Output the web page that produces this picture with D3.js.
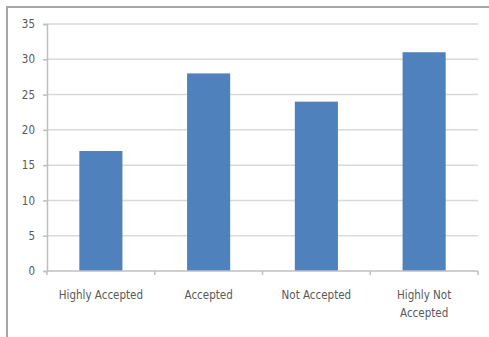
<!DOCTYPE html>
<html><head><meta charset="utf-8">
<script src="https://cdn.jsdelivr.net/npm/d3@7"></script>
<style>body{margin:0;background:#fff}</style>
</head><body>
<svg id="c" width="489" height="337"></svg>
<script>
const categories = ["Highly Accepted", "Accepted", "Not Accepted", "Highly Not Accepted"];
const values = [17, 28, 24, 31];
const yTicks = [0, 5, 10, 15, 20, 25, 30, 35];
const labelLines = [["Highly Accepted"], ["Accepted"], ["Not Accepted"], ["Highly Not", "Accepted"]];

(function() {
const svg = d3.select("#c");
const font = "'Liberation Sans Narrow','Arial Narrow','DejaVu Sans Condensed',sans-serif";
// outer frame
svg.append("rect").attr("x", 7).attr("y", 7).attr("width", 500).attr("height", 400)
  .attr("fill", "none").attr("stroke", "#a6a6a6").attr("stroke-width", 2);

const mL = 47, mR = 478, mT = 24, mB = 271;
const x = d3.scaleBand().domain(categories).range([mL, mR]).paddingInner(0.6).paddingOuter(0.3);
const xb = d3.scaleBand().domain(categories).range([mL, mR]);
const y = d3.scaleLinear().domain([0, 35]).range([mB, mT]);

// gridlines
svg.append("g").selectAll("line").data(yTicks.filter(d => d > 0)).join("line")
  .attr("x1", mL).attr("x2", mR).attr("y1", d => y(d)).attr("y2", d => y(d))
  .attr("stroke", "#d9d9d9").attr("stroke-width", 1.5);

// y axis
const ya = svg.append("g").attr("transform", `translate(${mL},0)`)
  .call(d3.axisLeft(y).tickValues(yTicks).tickSize(4).tickPadding(8));
ya.select(".domain").attr("stroke", "#bfbfbf").attr("stroke-width", 1.5);
ya.selectAll(".tick line").attr("stroke", "#bfbfbf").attr("stroke-width", 1.5);
ya.selectAll("text").attr("font-family", font).attr("font-size", 11.5).attr("fill", "#595959");

// bars
svg.append("g").selectAll("rect").data(values).join("rect")
  .attr("x", (d, i) => x(categories[i])).attr("width", x.bandwidth())
  .attr("y", d => y(d)).attr("height", d => y(0) - y(d)).attr("fill", "#4f81bd");

// x axis
const xg = svg.append("g");
xg.append("line").attr("x1", mL).attr("x2", mR).attr("y1", mB).attr("y2", mB)
  .attr("stroke", "#bfbfbf").attr("stroke-width", 1.5);
const bounds = categories.map(c => xb(c)).concat([mR]);
xg.selectAll("line.t").data(bounds).join("line").attr("class", "t")
  .attr("x1", d => d).attr("x2", d => d).attr("y1", mB).attr("y2", mB + 4)
  .attr("stroke", "#bfbfbf").attr("stroke-width", 1.5);
const lab = xg.selectAll("text").data(categories).join("text")
  .attr("x", c => xb(c) + xb.bandwidth() / 2).attr("y", 299)
  .attr("text-anchor", "middle").attr("font-family", font).attr("font-size", 11.5).attr("fill", "#595959");
lab.each(function(c, i) {
  d3.select(this).selectAll("tspan").data(labelLines[i]).join("tspan")
    .attr("x", xb(c) + xb.bandwidth() / 2).attr("dy", (d, j) => j === 0 ? 0 : 18).text(d => d);
});
})();
</script>
</body></html>
